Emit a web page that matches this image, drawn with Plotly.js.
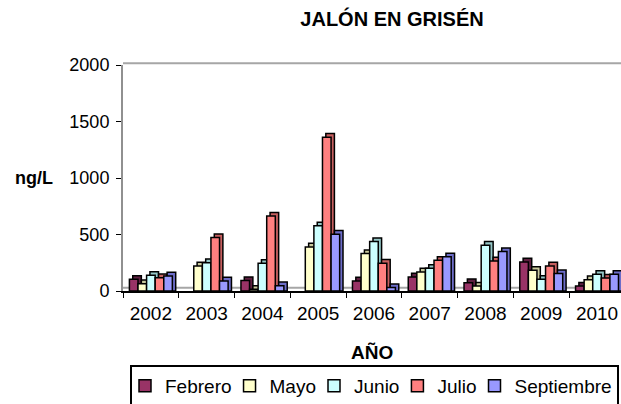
<!DOCTYPE html>
<html><head><meta charset="utf-8">
<script src="https://cdn.plot.ly/plotly-3.0.1.min.js"></script>
<style>html,body{margin:0;padding:0;background:#fff;overflow:hidden;} #chart{width:621px;height:404px;}</style>
</head><body><div id="chart"></div>
<script>
const years = ['2002','2003','2004','2005','2006','2007','2008','2009','2010'];
const febrero    = [103, null, 92, null, 89, 124, 74, 257, 44];
const mayo       = [65, 222, 15, 390, 331, 169, 44, 183, 100];
const junio      = [139, 251, 245, 577, 438, 201, 405, 103, 148];
const julio      = [118, 473, 663, 1361, 246, 272, 266, 222, 115];
const septiembre = [133, 89, 47, 503, 30, 302, 349, 154, 148];
const seriesNames = ['Febrero','Mayo','Junio','Julio','Septiembre'];
const seriesValues = [febrero, mayo, junio, julio, septiembre];
const seriesColors = ['#993366','#FFFFCC','#CCFFFF','#FF8080','#9999FF'];
const sideColors   = ['#5e1f40','#c9c99c','#94c6c6','#c65f5f','#6d6dc9'];

const FONT = 'Liberation Sans, Arial, sans-serif';
const barW = 0.154, groupStart = -0.385, depthX = 0.06, depthY = 32;
const traces = [];
seriesValues.forEach((vals, i) => {
  const off = groupStart + i * barW;
  traces.push({
    type: 'bar', x: years, y: vals.map(v => v == null ? null : v + depthY), base: 0,
    offset: off + depthX, width: barW, showlegend: false, hoverinfo: 'skip',
    marker: {color: sideColors[i], line: {color: '#000', width: 1.5}}
  });
  traces.push({
    type: 'bar', name: seriesNames[i], x: years, y: vals,
    offset: off, width: barW,
    marker: {color: seriesColors[i], line: {color: '#000', width: 1.5}}
  });
});

const layout = {
  width: 621, height: 404,
  margin: {l: 123, r: 0, t: 65, b: 113, autoexpand: false},
  paper_bgcolor: '#fff', plot_bgcolor: '#fff',
  barmode: 'overlay',
  font: {family: FONT, color: '#000'},
  title: {text: 'JALÓN EN GRISÉN', x: 392/621, xanchor: 'center', xref: 'container',
          y: 1 - 19/404, yanchor: 'middle', yref: 'container',
          font: {family: FONT, size: 20, weight: 'bold', color: '#000'}},
  xaxis: {type: 'category', range: [-0.5, 8.43], showgrid: false, zeroline: false,
          showline: true, linecolor: '#000', linewidth: 1.5,
          ticks: 'outside', tickson: 'boundaries', ticklen: 5, tickcolor: '#000',
          ticklabelstandoff: 5,
          tickfont: {family: FONT, size: 19, color: '#000'}, fixedrange: true},
  yaxis: {range: [0, 2000], dtick: 500, showgrid: false, zeroline: false,
          showline: true, linecolor: '#909090', linewidth: 2,
          ticks: 'outside', ticklen: 5, tickcolor: '#000', ticklabelstandoff: 3,
          tickfont: {family: FONT, size: 18, color: '#000'}, fixedrange: true},
  shapes: [
    {type: 'line', xref: 'paper', yref: 'paper', x0: 0, x1: 1, y0: 1.008, y1: 1.008,
     line: {color: '#a6a6a6', width: 2}},
    {type: 'line', xref: 'paper', yref: 'paper', x0: 0, x1: 1, y0: 0.014, y1: 0.014,
     line: {color: '#a6a6a6', width: 2}, layer: 'below'}
  ],
  annotations: [
    {text: 'ng/L', xref: 'paper', yref: 'paper', x: (34-123)/498, y: 0.5,
     xanchor: 'center', yanchor: 'middle', showarrow: false,
     font: {family: FONT, size: 18, weight: 'bold', color: '#000'}},
    {text: 'AÑO', xref: 'paper', yref: 'paper', x: 0.5, y: -(352-291)/226,
     xanchor: 'center', yanchor: 'middle', showarrow: false,
     font: {family: FONT, size: 19, weight: 'bold', color: '#000'}}
  ],
  legend: {orientation: 'h', x: (130-123)/498, xanchor: 'left', y: -(365-291)/226, yanchor: 'top',
           indentation: -7,
           bordercolor: '#000', borderwidth: 2, bgcolor: '#fff', traceorder: 'normal',
           font: {family: FONT, size: 19, color: '#000'}},
  showlegend: true
};
Plotly.newPlot('chart', traces, layout, {staticPlot: true, displayModeBar: false});
</script></body></html>
